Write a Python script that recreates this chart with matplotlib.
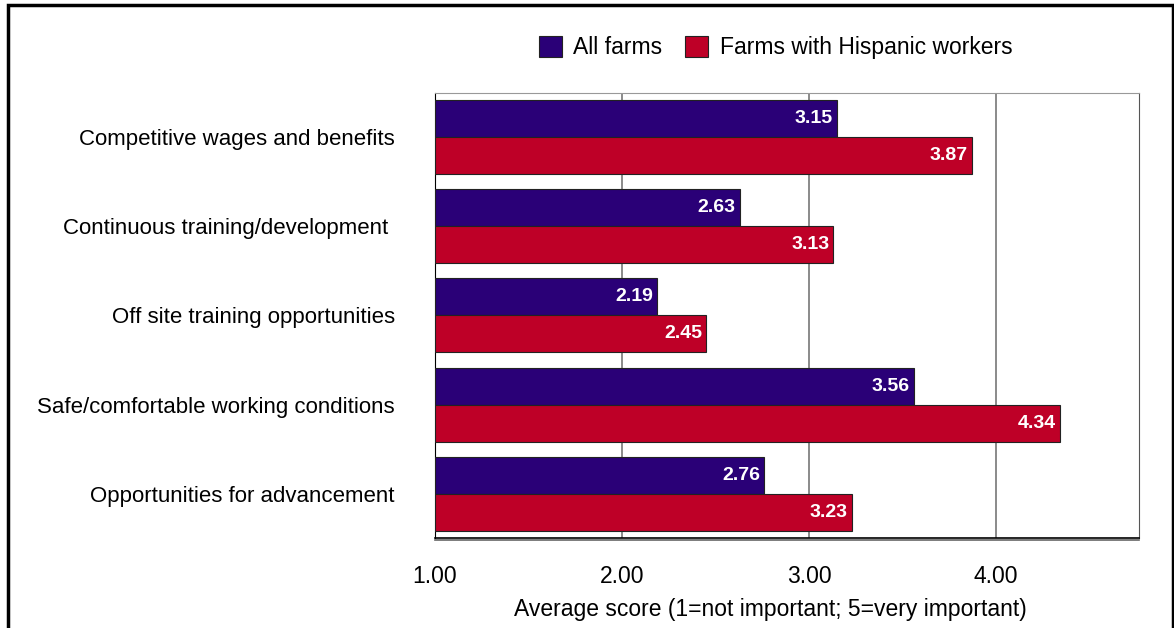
import matplotlib.pyplot as plt
from matplotlib.patches import Rectangle
import numpy as np

plt.rcParams['font.family'] = ['Liberation Sans', 'DejaVu Sans']

categories = ["Competitive wages and benefits",
              "Continuous training/development ",
              "Off site training opportunities",
              "Safe/comfortable working conditions",
              "Opportunities for advancement"]
all_farms = [3.15, 2.63, 2.19, 3.56, 2.76]
hispanic = [3.87, 3.13, 2.45, 4.34, 3.23]
series_names = ["All farms", "Farms with Hispanic workers"]
xticks = [1.0, 2.0, 3.0, 4.0]

navy = "#2A0077"
red = "#BE0027"

fig = plt.figure(figsize=(11.74, 6.28), dpi=100)
ax = fig.add_axes([0.3705, 0.1441, 0.5997, 0.7078])

y = np.arange(len(categories))
h = 0.414
b1 = ax.barh(y - h / 2, np.array(all_farms) - 1, left=1, height=h,
             color=navy, edgecolor="#222222", linewidth=0.8, label=series_names[0], zorder=3)
b2 = ax.barh(y + h / 2, np.array(hispanic) - 1, left=1, height=h,
             color=red, edgecolor="#222222", linewidth=0.8, label=series_names[1], zorder=3)

# value labels inside the bar ends
for bars, vals in [(b1, all_farms), (b2, hispanic)]:
    for bar, v in zip(bars, vals):
        ax.text(v - 0.022, bar.get_y() + bar.get_height() / 2, f"{v:.2f}",
                color="white", fontweight="bold", fontsize=14,
                ha="right", va="center", zorder=4)

ax.set_xlim(1, 4.765)
ax.set_ylim(4.487, -0.487)
ax.set_xticks(xticks)
ax.set_xticklabels([f"{t:.2f}" for t in xticks], fontsize=16.5)
ax.set_yticks(y)
ax.set_yticklabels(categories, fontsize=16)
ax.tick_params(axis="x", length=0, pad=20)
ax.tick_params(axis="y", length=0, pad=29)
ax.xaxis.grid(True, color="#777777", linewidth=1.2, zorder=0)
ax.set_xlabel("Average score (1=not important; 5=very important)", fontsize=16.5)
ax.xaxis.set_label_coords(0.477, -0.136)

ax.spines["top"].set_color("#999999")
ax.spines["right"].set_color("#555555")
ax.spines["left"].set_color("black")
ax.spines["bottom"].set_color("black")
ax.spines["bottom"].set_linewidth(1.2)
# second line of the double bottom border
ax.plot([0, 1], [-0.006, -0.006], transform=ax.transAxes, color="#666666",
        linewidth=1.2, clip_on=False, zorder=5)

ax.legend(loc="center", bbox_to_anchor=(0.484, 1.102), ncol=2, frameon=False,
          fontsize=16.5, handlelength=1.0, handleheight=1.0, columnspacing=1.0,
          handletextpad=0.5)

# outer frame
fig.patches.append(Rectangle((0.007, -0.01), 0.992, 1.002, transform=fig.transFigure,
                             fill=False, edgecolor="black", linewidth=2.5))

fig.savefig("out.png", dpi=100)
